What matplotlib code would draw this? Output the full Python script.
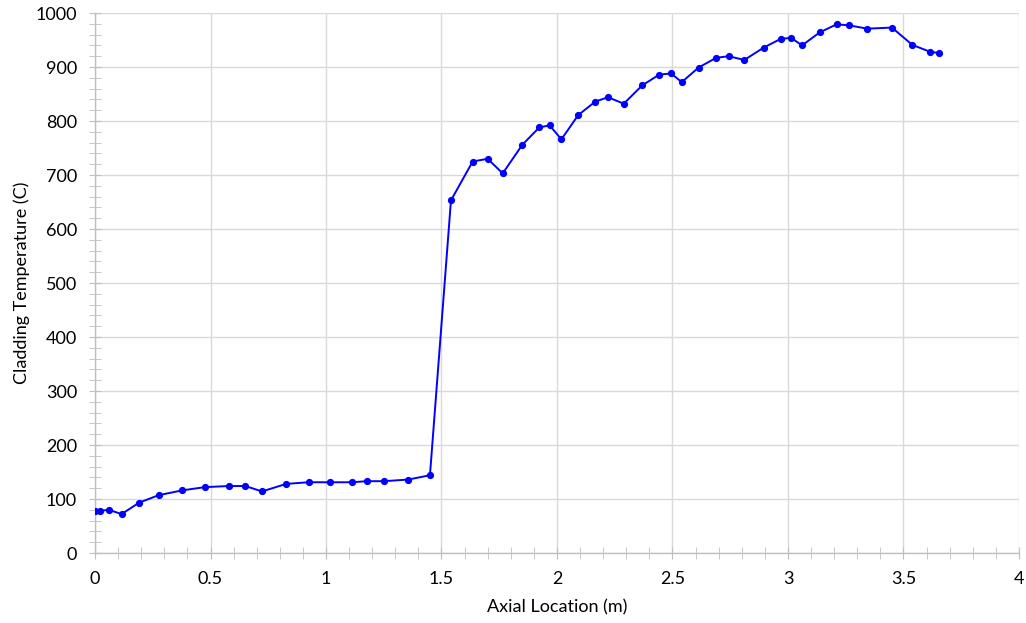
import matplotlib
matplotlib.use("Agg")
import matplotlib.pyplot as plt
from matplotlib.ticker import MultipleLocator

# axial location (m) and cladding temperature (C)
axial_m = [0.0, 0.02, 0.06, 0.115, 0.19, 0.275, 0.378, 0.476, 0.579, 0.651,
           0.723, 0.828, 0.925, 1.019, 1.111, 1.179, 1.252, 1.356, 1.450,
           1.541, 1.635, 1.700, 1.765, 1.850, 1.923, 1.968, 2.019, 2.092,
           2.166, 2.221, 2.289, 2.369, 2.443, 2.494, 2.540, 2.613, 2.689,
           2.743, 2.811, 2.895, 2.968, 3.013, 3.061, 3.137, 3.210, 3.266,
           3.343, 3.450, 3.538, 3.616, 3.654]
clad_temp_c = [78, 78, 80, 72, 93, 107, 116, 122, 124, 124,
               114, 128, 131, 131, 131, 133, 133, 136, 144,
               653, 725, 730, 703, 756, 788, 792, 766, 811,
               836, 844, 832, 866, 886, 888, 872, 899, 917,
               920, 913, 936, 952, 954, 940, 964, 979, 977,
               971, 973, 941, 928, 926]

plt.rcParams['font.family'] = ['Lato', 'DejaVu Sans']

fig = plt.figure(figsize=(10.26, 6.23), dpi=100)
ax = fig.add_axes([95 / 1026, 70 / 623, 924 / 1026, 540 / 623])

ax.plot(axial_m, clad_temp_c, color='#0000ff', lw=1.4, marker='o', ms=4.2,
        zorder=3)

ax.set_xlim(0, 4)
ax.set_ylim(0, 1000)
ax.set_xticks([0, 0.5, 1, 1.5, 2, 2.5, 3, 3.5, 4])
ax.set_xticklabels(['0', '0.5', '1', '1.5', '2', '2.5', '3', '3.5', '4'])
ax.xaxis.set_minor_locator(MultipleLocator(0.1))
ax.yaxis.set_major_locator(MultipleLocator(100))
ax.yaxis.set_minor_locator(MultipleLocator(20))

ax.grid(True, which='major', color='#d9d9d9', lw=1)
ax.set_axisbelow(True)

for side in ['top', 'right']:
    ax.spines[side].set_visible(False)
for side in ['left', 'bottom']:
    ax.spines[side].set_color('#bfbfbf')
    ax.spines[side].set_linewidth(1)

ax.tick_params(which='both', direction='inout', color='#bfbfbf',
               labelsize=13, labelcolor='#000000')
ax.tick_params(which='major', length=8, pad=9)
ax.tick_params(which='minor', length=8)

ax.set_xlabel('Axial Location (m)', fontsize=13, labelpad=9)
ax.set_ylabel('Cladding Temperature (C)', fontsize=13, labelpad=4)

fig.savefig('out.png', dpi=100)
